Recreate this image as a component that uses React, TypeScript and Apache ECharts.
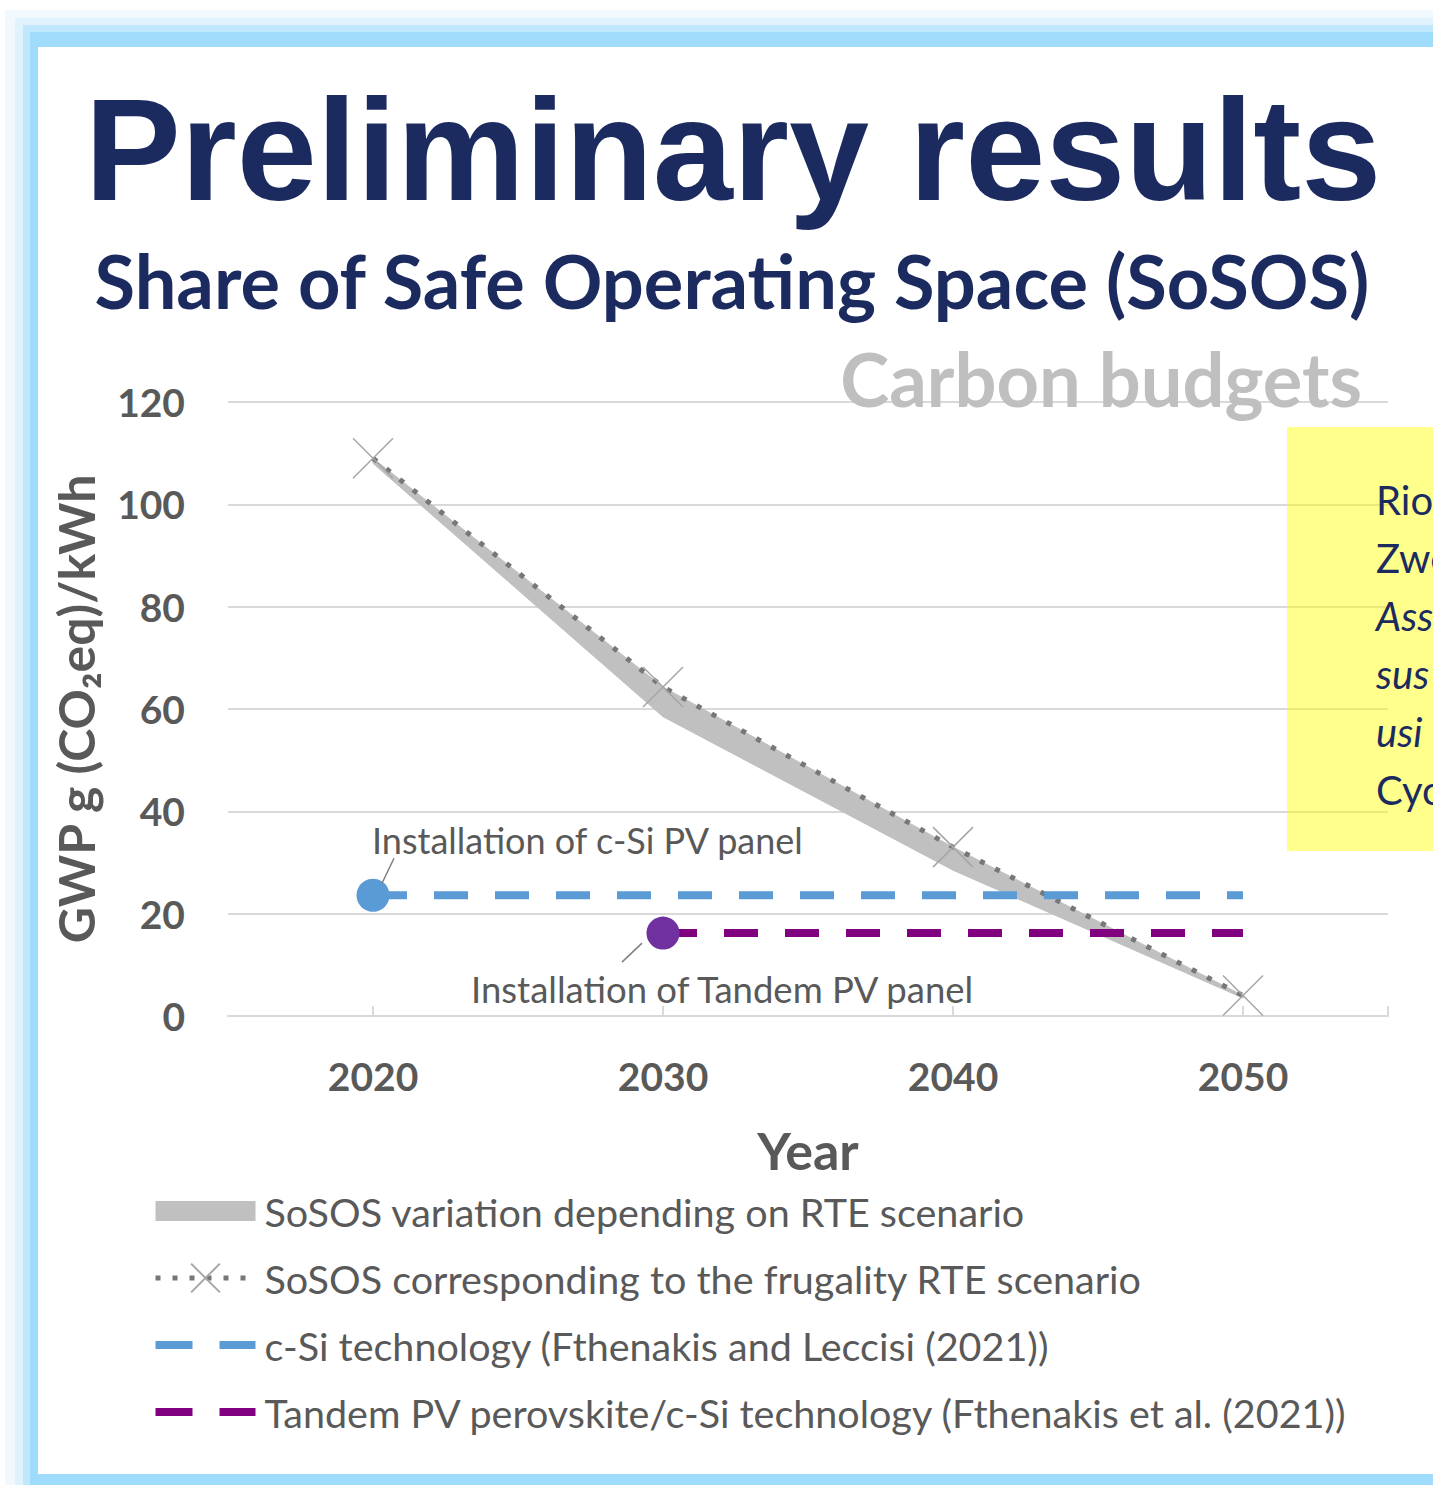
import React, { useEffect, useRef } from "react";
import * as echarts from "echarts";

// ---------- data ----------
const years = [2020, 2030, 2040, 2050];
const frugality = [109, 64.3, 33, 4];
const bandLow = [108, 58.5, 28.5, 3.5];
const bandHigh = [109, 64.3, 33, 4];
const cSiYears = [2020, 2050];
const cSiValue = 23.6;
const tandemYears = [2030, 2050];
const tandemValue = 16.2;
const xLabelYears = [2020, 2030, 2040, 2050];
const xTickYears = [2020, 2030, 2040, 2050, 2055];
const boxLines = ["Rio", "Zwe", "Ass", "sus", "usi", "Cyc"];
const boxItalic = [false, false, true, true, true, false];

const BAND = "SoSOS variation depending on RTE scenario";
const FRUG = "SoSOS corresponding to the frugality RTE scenario";
const CSI = "c-Si technology (Fthenakis and Leccisi (2021))";
const TANDEM = "Tandem PV perovskite/c-Si technology (Fthenakis et al. (2021))";

const NAVY = "#1c2b5f";
const GREY = "#595959";
const BLUE = "#5b9bd5";
const PURPLE_LINE = "#800080";
const PURPLE_DOT = "#7030a0";
const BAND_GREY = "#c0c0c0";
const FONT = 'Lato, "Noto Sans", sans-serif';
const DASH_ICON = "path://M0,0H37V8H0Z M64,0H100V8H64Z";
const RECT_ICON = "path://M0,0H100V20H0Z";

export default function App() {
  const ref = useRef<HTMLDivElement>(null);
  useEffect(() => {
    if (!ref.current) return;
    const chart = echarts.init(ref.current, null, { renderer: "svg" });
    const bandData = years.map((y, i) => [y, bandLow[i], bandHigh[i]]);
    const frugData = years.map((y, i) => [y, frugality[i]]);
    const option: any = {
      animation: false,
      grid: { left: 228, right: 45, top: 402, bottom: 469, containLabel: false },
      xAxis: {
        type: "value",
        min: 2015,
        max: 2055,
        axisLine: { show: true, lineStyle: { color: "#d9d9d9", width: 2 } },
        axisTick: { show: true, inside: true, length: 10, customValues: xTickYears, lineStyle: { color: "#d9d9d9", width: 2 } },
        axisLabel: {
          customValues: xLabelYears,
          formatter: (v: number) => String(v),
          margin: 40,
          color: GREY,
          fontFamily: FONT,
          fontWeight: "bold",
          fontSize: 39,
        },
        splitLine: { show: false },
        name: "Year",
        nameLocation: "middle",
        nameGap: 108,
        nameTextStyle: { color: GREY, fontFamily: FONT, fontWeight: "bold", fontSize: 52 },
      },
      yAxis: {
        type: "value",
        min: 0,
        max: 120,
        interval: 20,
        axisLine: { show: false },
        axisTick: { show: false },
        splitLine: { lineStyle: { color: "#d9d9d9", width: 2 } },
        axisLabel: { margin: 43, color: GREY, fontFamily: FONT, fontWeight: "bold", fontSize: 39 },
        name: "GWP g (CO₂eq)/kWh",
        nameLocation: "middle",
        nameGap: 127,
        nameTextStyle: { color: GREY, fontFamily: FONT, fontWeight: "bold", fontSize: 50 },
      },
      legend: {
        orient: "vertical",
        left: 153,
        top: 1191,
        padding: 0,
        itemWidth: 100,
        itemHeight: 36,
        itemGap: 27,
        selectedMode: false,
        lineStyle: { width: "inherit", type: "inherit" },
        textStyle: { color: GREY, fontFamily: FONT, fontSize: 39.5, lineHeight: 40, padding: [0, 0, 0, 4] },
        data: [
          { name: BAND, icon: RECT_ICON, itemStyle: { color: BAND_GREY } },
          { name: FRUG },
          { name: CSI, icon: DASH_ICON, itemStyle: { color: BLUE } },
          { name: TANDEM, icon: DASH_ICON, itemStyle: { color: PURPLE_LINE } },
        ],
      },
      series: [
        {
          name: BAND,
          type: "custom",
          data: bandData,
          encode: { x: 0, y: [1, 2] },
          color: BAND_GREY,
          itemStyle: { color: BAND_GREY },
          z: 1,
          renderItem: (params: any, api: any) => {
            if (params.dataIndex !== 0) return null;
            const upper = years.map((y, i) => api.coord([y, bandHigh[i]]));
            const lower = years.map((y, i) => api.coord([y, bandLow[i]])).reverse();
            return {
              type: "polygon",
              shape: { points: upper.concat(lower) },
              style: { fill: BAND_GREY, stroke: BAND_GREY, lineWidth: 1 },
            };
          },
        },
        {
          name: FRUG,
          type: "line",
          data: frugData,
          symbol: "path://M0 0L10 10M10 0L0 10",
          symbolSize: 40,
          itemStyle: { color: "transparent", borderColor: "#a6a6a6", borderWidth: 1.5 },
          lineStyle: { color: "#777777", width: 5, type: [5, 12] },
          z: 3,
        },
        {
          name: CSI,
          type: "line",
          data: cSiYears.map((y) => [y, cSiValue]),
          symbol: "none",
          color: BLUE,
          lineStyle: { color: BLUE, width: 8, type: [34, 27] },
          z: 4,
        },
        {
          name: TANDEM,
          type: "line",
          data: tandemYears.map((y) => [y, tandemValue]),
          symbol: "none",
          color: PURPLE_LINE,
          lineStyle: { color: PURPLE_LINE, width: 8, type: [34, 27] },
          z: 4,
        },
        {
          name: "installations",
          type: "scatter",
          symbolSize: 33,
          z: 5,
          data: [
            { value: [cSiYears[0], cSiValue], itemStyle: { color: BLUE, opacity: 1 } },
            { value: [tandemYears[0], tandemValue], itemStyle: { color: PURPLE_DOT, opacity: 1 } },
          ],
        },
      ],
    };
    chart.setOption(option);

    const p1 = chart.convertToPixel({ xAxisIndex: 0, yAxisIndex: 0 }, [cSiYears[0], cSiValue]) as number[];
    const p2 = chart.convertToPixel({ xAxisIndex: 0, yAxisIndex: 0 }, [tandemYears[0], tandemValue]) as number[];

    const txt = (text: string, x: number, y: number, font: string, fill: string, align = "left", z = 10) => ({
      type: "text",
      z,
      style: { text, x, y, font, fill, align, textAlign: align, verticalAlign: "middle", textVerticalAlign: "middle" },
    });

    const frameColors = ["#f2f9fe", "#e0f3fd", "#c0e8fc", "#9fdcfb"];
    const frameOffsets = [[5, 10], [15, 18], [23, 25], [30, 32]];
    const graphic: any[] = [];
    frameColors.forEach((c, i) => {
      graphic.push({
        type: "rect",
        z: -100 + i,
        shape: { x: frameOffsets[i][0], y: frameOffsets[i][1], width: 1600, height: 1600 },
        style: { fill: c },
        silent: true,
      });
    });
    graphic.push({
      type: "rect",
      z: -90,
      shape: { x: 38, y: 47, width: 1400, height: 1427 },
      style: { fill: "#ffffff" },
      silent: true,
    });
    graphic.push(txt("Preliminary results", 733, 150, 'bold 144px "Liberation Sans", Arial, sans-serif', NAVY, "center"));
    graphic.push(txt("Share of Safe Operating Space (SoSOS)", 732, 280, `bold 74px ${FONT}`, NAVY, "center"));
    graphic.push(txt("Carbon budgets", 1362, 378, `bold 74px ${FONT}`, "#bfbfbf", "right"));
    graphic.push({
      type: "rect",
      z: 6,
      shape: { x: 1287, y: 427, width: 200, height: 424 },
      style: { fill: "rgba(255,255,0,0.45)" },
      silent: true,
    });
    boxLines.forEach((t, i) => {
      graphic.push(
        txt(t, 1376, 500 + i * 58, `${boxItalic[i] ? "italic " : ""}40px ${FONT}`, NAVY, "left", 7)
      );
    });
    graphic.push(txt("Installation of c-Si PV panel", p1[0] - 1, p1[1] - 55, `36px ${FONT}`, GREY, "left"));
    graphic.push(txt("Installation of Tandem PV panel", p2[0] - 192, p2[1] + 56, `36.5px ${FONT}`, GREY, "left"));
    graphic.push({
      type: "line",
      z: 10,
      shape: { x1: p1[0] + 9, y1: p1[1] - 12, x2: p1[0] + 21, y2: p1[1] - 37 },
      style: { stroke: "#7f7f7f", lineWidth: 1.5 },
    });
    graphic.push({
      type: "line",
      z: 10,
      shape: { x1: p2[0] - 21, y1: p2[1] + 10, x2: p2[0] - 41, y2: p2[1] + 29 },
      style: { stroke: "#7f7f7f", lineWidth: 1.5 },
    });
    chart.setOption({ graphic });

    return () => chart.dispose();
  }, []);
  return (
    <div
      ref={ref}
      style={{ position: "absolute", left: 0, top: 0, width: 1433, height: 1485, background: "#ffffff" }}
    />
  );
}
